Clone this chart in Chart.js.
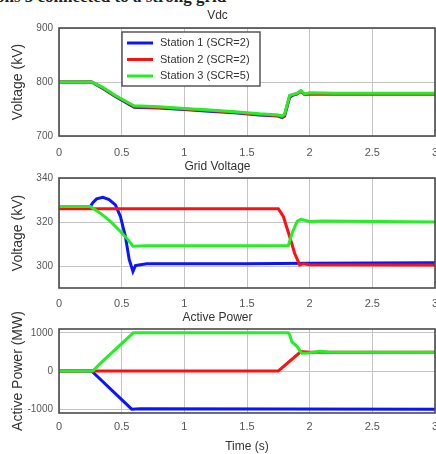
<!DOCTYPE html>
<html><head><meta charset="utf-8">
<script src="https://cdn.jsdelivr.net/npm/chart.js@4"></script>
<style>
body{margin:0;background:#fff;width:436px;height:454px;overflow:hidden;position:relative}
canvas{position:absolute;left:0}
#hdr{position:absolute;left:-4px;top:-13px;font:bold 17px "Liberation Serif",serif;color:#222;white-space:nowrap}
</style></head><body>
<div id="hdr">ons 3 connected to a strong grid</div>
<canvas id="c1" width="436" height="158" style="top:0"></canvas>
<canvas id="c2" width="436" height="150" style="top:158px"></canvas>
<canvas id="c3" width="436" height="146" style="top:308px"></canvas>
<script>
// ---- data ----
const seriesLabels = ['Station 1 (SCR=2)', 'Station 2 (SCR=2)', 'Station 3 (SCR=5)'];
const timeTicks = [0, 0.5, 1, 1.5, 2, 2.5, 3];
const vdcTicks = [700, 800, 900];
const gridTicks = [300, 320, 340];
const powerTicks = [-1000, 0, 1000];

const vdcTime = [0, 0.26, 0.35, 0.45, 0.55, 0.6, 0.8, 1.0, 1.2, 1.4, 1.6, 1.75, 1.78, 1.80, 1.84, 1.87, 1.9, 1.93, 1.96, 2.0, 2.2, 3.0];
const vdcStation1 = [800, 800, 788, 773, 760, 753, 752, 749, 746, 743, 739, 737, 734, 737, 772, 776, 778, 783, 777, 778, 778, 778];
const vdcStation2 = [800, 800, 789, 774, 761, 754, 753, 750, 747, 744, 740, 738, 735, 739, 774, 777, 778, 783, 777, 778, 778, 778];
const vdcStation3 = [800, 800, 790, 775, 762, 756, 754, 751, 748, 745, 741, 739, 737, 740, 775, 777, 779, 784, 778, 780, 779, 779];

const gridTime1 = [0, 0.25, 0.27, 0.3, 0.35, 0.4, 0.45, 0.49, 0.53, 0.56, 0.59, 0.61, 0.65, 0.7, 1.0, 1.5, 2.0, 3.0];
const gridStation1 = [327, 327, 328.8, 330.5, 331.2, 330.2, 327.8, 322.5, 313.4, 303, 297.5, 300.2, 300.6, 301, 301, 301, 301.3, 301.5];
const gridTime2 = [0, 1.75, 1.79, 1.84, 1.88, 1.92, 1.95, 2.0, 3.0];
const gridStation2 = [326, 326, 322.5, 313.4, 305.8, 300.5, 301, 300.6, 300.5];
const gridTime3 = [0, 0.25, 0.33, 0.41, 0.49, 0.55, 0.59, 0.7, 1.0, 1.5, 1.83, 1.86, 1.9, 1.93, 2.0, 2.1, 3.0];
const gridStation3 = [327, 327, 324, 320.3, 315.7, 312, 309, 309.2, 309.2, 309.2, 309.3, 315, 320.3, 321.2, 320.2, 320.4, 320];

const powerTime1 = [0, 0.26, 0.58, 0.65, 3.0];
const powerStation1 = [0, 0, -1000, -990, -1000];
const powerTime2 = [0, 1.75, 1.93, 2.0, 3.0];
const powerStation2 = [0, 0, 510, 490, 490];
const powerTime3 = [0, 0.27, 0.33, 0.593, 1.83, 1.84, 1.857, 1.90, 1.937, 1.99, 2.08, 2.15, 3.0];
const powerStation3 = [0, 0, 200, 1000, 1000, 950, 770, 640, 465, 470, 520, 500, 490];

const colors = ['#0a14ff', '#ff1010', '#22f022'];
const drawOrder = [2, 1, 0];

function pts(t, v) { return t.map((x, i) => ({x: x, y: v[i]})); }
function ds(i, t, v) {
  return {label: seriesLabels[i], data: pts(t, v), borderColor: colors[i], backgroundColor: colors[i],
    borderWidth: 3, pointRadius: 0, tension: 0, fill: false, order: drawOrder[i]};
}

const framePlugin = {
  id: 'frame',
  afterDatasetsDraw(chart) {
    const a = chart.chartArea, c = chart.ctx;
    c.save(); c.strokeStyle = '#4a4a4a'; c.lineWidth = 1.6;
    c.strokeRect(a.left, a.top, a.right - a.left, a.bottom - a.top);
    c.restore();
  }
};
const legendPlugin = {
  id: 'inlegend',
  afterDraw(chart) {
    const a = chart.chartArea, c = chart.ctx;
    const x = a.left + 63, y = a.top + 4, w = 138, h = 54;
    c.save();
    c.fillStyle = '#fff'; c.fillRect(x, y, w, h);
    c.strokeStyle = '#4a4a4a'; c.lineWidth = 1.4; c.strokeRect(x, y, w, h);
    c.font = '11px "Liberation Sans", Arial, sans-serif';
    c.textBaseline = 'middle'; c.fillStyle = '#333';
    chart.data.datasets.forEach((d, i) => {
      const yy = y + 11 + i * 16.5;
      c.strokeStyle = d.borderColor; c.lineWidth = 3;
      c.beginPath(); c.moveTo(x + 5, yy); c.lineTo(x + 31, yy); c.stroke();
      c.fillText(d.label, x + 38, yy);
    });
    c.restore();
  }
};

const FONT = '"Liberation Sans", Arial, sans-serif';
function makeChart(id, datasets, o) {
  return new Chart(document.getElementById(id), {
    type: 'line',
    data: {datasets: datasets},
    plugins: o.legend ? [framePlugin, legendPlugin] : [framePlugin],
    options: {
      responsive: false, animation: false, devicePixelRatio: 1,
      layout: {padding: {left: 0, right: 1, top: 0, bottom: 0}},
      plugins: {
        legend: {display: false}, tooltip: {enabled: false},
        title: {display: true, text: o.title, color: '#333', font: {family: FONT, size: 12, weight: 'normal'},
          padding: {top: o.tPad[0], bottom: o.tPad[1]}}
      },
      scales: {
        x: {
          type: 'linear', min: 0, max: 3,
          afterBuildTicks: s => { s.ticks = timeTicks.map(v => ({value: v})); },
          afterFit: s => { s.height = o.xH; s.paddingLeft = 0; s.paddingRight = 0; },
          grid: {color: '#c4c4c4', lineWidth: 1, drawTicks: false},
          border: {display: false},
          ticks: {padding: o.xPad, color: '#555', font: {family: FONT, size: 11}, maxRotation: 0, autoSkip: false,
            callback: v => String(v)},
          title: {display: !!o.xTitle, text: o.xTitle || '', color: '#333', font: {family: FONT, size: 12}, padding: {top: 0, bottom: 0}}
        },
        y: {
          type: 'linear', min: o.yMin, max: o.yMax,
          afterBuildTicks: s => { s.ticks = o.yTicks.map(v => ({value: v})); },
          afterFit: s => { s.width = 59; s.paddingTop = 0; s.paddingBottom = 0; },
          grid: {color: '#c4c4c4', lineWidth: 1, drawTicks: false},
          border: {display: false},
          ticks: {padding: 6, color: '#555', font: {family: FONT, size: 10}, autoSkip: false,
            callback: v => String(v)},
          title: {display: true, text: o.yTitle, color: '#333', font: {family: FONT, size: 14}, padding: {top: 10, bottom: 0}}
        }
      }
    }
  });
}

makeChart('c1', [ds(0, vdcTime, vdcStation1), ds(1, vdcTime, vdcStation2), ds(2, vdcTime, vdcStation3)],
  {title: 'Vdc', tPad: [8.3, 5.3], xH: 22, xPad: 10, yMin: 700, yMax: 900, yTicks: vdcTicks, yTitle: 'Voltage (kV)', legend: true});
makeChart('c2', [ds(0, gridTime1, gridStation1), ds(1, gridTime2, gridStation2), ds(2, gridTime3, gridStation3)],
  {title: 'Grid Voltage', tPad: [1.8, 3.8], xH: 20, xPad: 9.5, yMin: 290, yMax: 340, yTicks: gridTicks, yTitle: 'Voltage (kV)'});
makeChart('c3', [ds(0, powerTime1, powerStation1), ds(1, powerTime2, powerStation2), ds(2, powerTime3, powerStation3)],
  {title: 'Active Power', tPad: [2.8, 3.8], xH: 41, xPad: 7.5, yMin: -1100, yMax: 1100, yTicks: powerTicks, yTitle: 'Active Power (MW)', xTitle: 'Time (s)'});
</script>
</body></html>
